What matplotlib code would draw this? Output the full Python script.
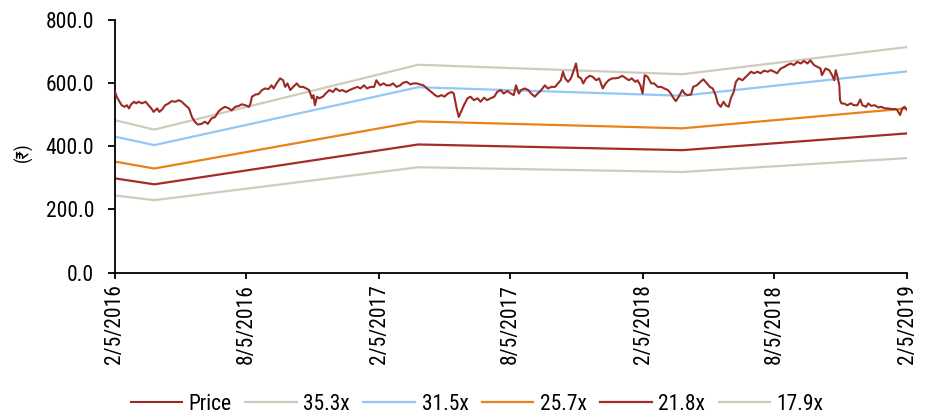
import matplotlib
matplotlib.use("Agg")
import matplotlib.pyplot as plt
import pandas as pd
from matplotlib import font_manager as fm

# ---------------- data ----------------
start_date = "2016-02-05"
price_day_offset = [0,3,7,10,14,17,20,23,27,30,33,38,43,47,51,54,59,62,66,70,75,79,84,89,93,98,103,107,111,115,120,125,129,134,139,144,149,153,158,162,167,172,176,181,186,188,190,195,199,204,208,213,217,220,224,229,233,236,239,243,247,252,256,261,265,269,273,275,277,280,283,288,292,297,302,306,311,315,320,325,330,336,340,345,349,354,359,362,367,372,376,381,385,390,395,399,404,409,413,418,422,427,433,438,443,447,452,456,461,466,469,473,476,479,483,488,492,497,502,506,511,515,520,525,529,534,538,543,548,552,555,559,562,567,572,576,581,585,590,595,599,604,609,613,617,620,623,627,631,635,638,641,645,648,652,657,661,666,670,675,679,683,688,692,697,702,706,711,715,720,723,727,730,733,737,742,746,751,756,760,765,769,773,776,780,785,788,792,797,800,805,810,814,819,823,827,831,834,838,842,845,849,852,856,859,863,868,875,880,884,889,893,898,903,907,912,916,921,926,930,935,939,944,949,953,958,962,967,972,976,978,983,988,992,995,997,999,1002,1003,1005,1009,1013,1018,1022,1027,1031,1034,1039,1042,1046,1051,1056,1060,1065,1069,1074,1079,1082,1086,1089,1092,1096]
price_value = [577,556,540,529,524,529,519,532,540,535,540,535,540,529,519,508,519,508,516,529,535,542,540,545,540,529,519,492,477,468,470,477,470,487,492,510,519,524,519,513,524,527,532,529,524,535,556,563,564,577,582,580,592,582,598,614,608,587,598,577,587,598,587,587,582,577,551,561,529,556,551,556,566,577,571,582,574,577,571,577,582,587,582,592,582,587,587,608,592,598,592,592,598,587,592,600,603,595,598,598,595,592,580,571,561,556,561,556,566,571,566,519,492,508,529,551,556,545,551,540,553,545,551,556,571,577,566,574,566,561,592,566,577,582,577,566,556,566,577,592,582,587,587,598,608,635,614,603,614,640,661,619,614,598,614,622,619,608,614,582,598,608,614,614,616,622,616,608,614,603,608,592,566,624,619,598,598,587,587,582,577,566,551,542,556,577,566,561,563,587,592,603,611,598,587,582,561,535,524,540,529,524,551,571,603,614,608,624,635,630,635,630,638,635,640,635,630,645,650,656,661,656,666,661,669,661,671,656,650,645,624,645,640,624,608,640,624,592,545,535,534,529,535,529,529,547,529,524,535,527,529,522,524,519,519,517,517,514,498,519,524,514]

band_dates = ["2016-02-05", "2016-03-31", "2017-03-31", "2018-03-31", "2019-02-05"]
band_labels = ["35.3x", "31.5x", "25.7x", "21.8x", "17.9x"]
band_353 = [482, 452, 657, 627, 713]
band_315 = [430, 403, 586, 559, 636]
band_257 = [351, 329, 478, 456, 519]
band_218 = [298, 279, 405, 387, 440]
band_179 = [244, 229, 333, 318, 362]

tick_dates = ["2016-02-05", "2016-08-05", "2017-02-05", "2017-08-05",
              "2018-02-05", "2018-08-05", "2019-02-05"]
tick_labels = ["2/5/2016", "8/5/2016", "2/5/2017", "8/5/2017",
               "2/5/2018", "8/5/2018", "2/5/2019"]
y_ticks = [0, 200, 400, 600, 800]

# ---------------- fonts ----------------
names = {f.name for f in fm.fontManager.ttflist}
narrow = None
for cand in ["Liberation Sans Narrow", "Arial Narrow", "Roboto Condensed",
             "Open Sans Condensed", "Noto Sans Condensed"]:
    if cand in names:
        narrow = cand
        break
fam = [narrow, "DejaVu Sans"] if narrow else ["DejaVu Sans"]
plt.rcParams["font.family"] = fam

# ---------------- figure ----------------
fig = plt.figure(figsize=(9.32, 4.17), dpi=100)
ax = fig.add_axes([114.5 / 932, 1 - 272.6 / 417, 792.8 / 932, 253.1 / 417])

price_dates = pd.Timestamp(start_date) + pd.to_timedelta(price_day_offset, unit="D")
bd = pd.to_datetime(band_dates)

c_price = "#9B2A22"
c_beige = "#CFCBBC"
c_blue = "#93C7F7"
c_orange = "#E8821A"
c_red = "#A32C26"

ax.plot(price_dates, price_value, color=c_price, lw=1.5, label="Price", zorder=5)
ax.plot(bd, band_353, color=c_beige, lw=1.6, label=band_labels[0])
ax.plot(bd, band_315, color=c_blue, lw=1.6, label=band_labels[1])
ax.plot(bd, band_257, color=c_orange, lw=1.6, label=band_labels[2])
ax.plot(bd, band_218, color=c_red, lw=1.6, label=band_labels[3])
ax.plot(bd, band_179, color=c_beige, lw=1.6, label=band_labels[4])

ax.set_xlim(pd.Timestamp(tick_dates[0]), pd.Timestamp(tick_dates[-1]))
ax.set_ylim(0, 800)
ax.set_xticks(pd.to_datetime(tick_dates))
ax.set_xticklabels(tick_labels, rotation=90, fontsize=15.5)
ax.set_yticks(y_ticks)
ax.set_yticklabels([f"{v:.1f}" for v in y_ticks], fontsize=15.5)

for s in ["top", "right"]:
    ax.spines[s].set_visible(False)
for s in ["left", "bottom"]:
    ax.spines[s].set_linewidth(1.3)
    ax.spines[s].set_color("black")
ax.tick_params(axis="y", direction="out", length=5, width=1.3, pad=9.5)
ax.tick_params(axis="x", direction="out", length=4, width=1.3, pad=4)

fig.text(23 / 932, 1 - 152 / 417, "(\u20b9)", rotation=90, ha="center", va="center",
         fontsize=13, family=fam)

fig.legend(loc="center", bbox_to_anchor=(0.512, 0.03), ncol=6, frameon=False,
           fontsize=15.5, handlelength=2.4, handletextpad=0.3, columnspacing=0.62,
           borderaxespad=0)

fig.savefig("out.png", dpi=100)
